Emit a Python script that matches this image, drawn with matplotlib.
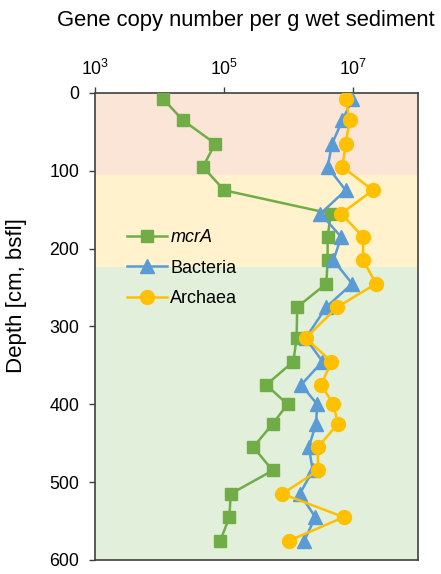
import numpy as np
import matplotlib.pyplot as plt

plt.rcParams['font.family'] = ['Liberation Sans', 'DejaVu Sans']
plt.rcParams['mathtext.fontset'] = 'custom'
plt.rcParams['mathtext.rm'] = 'Liberation Sans'
plt.rcParams['mathtext.it'] = 'Liberation Sans:italic'

# depth (cm) and log10 gene copies per g wet sediment
depth = [8, 35, 65, 95, 125, 155, 185, 215, 245, 275,
         315, 345, 375, 400, 425, 455, 485, 515, 545, 575]
mcrA_log = [4.06, 4.36, 4.86, 4.67, 5.00, 6.65, 6.60, 6.60, 6.58, 6.13,
            6.12, 6.07, 5.65, 5.98, 5.75, 5.45, 5.75, 5.10, 5.08, 4.94]
bact_log = [6.98, 6.83, 6.67, 6.60, 6.88, 6.49, 6.81, 6.69, 6.98, 6.58,
            6.26, 6.52, 6.19, 6.44, 6.42, 6.31, 6.37, 6.17, 6.41, 6.24]
arch_log = [6.88, 6.94, 6.88, 6.83, 7.30, 6.81, 7.15, 7.15, 7.35, 6.75,
            6.26, 6.66, 6.50, 6.69, 6.76, 6.45, 6.45, 5.90, 6.85, 6.01]

zones = [(0, 105, '#FBE5D6'), (105, 224, '#FFF2CC'), (224, 600, '#E2EFDA')]

fig = plt.figure(figsize=(4.41, 5.74), dpi=100)
ax = fig.add_axes([0.2154, 0.0244, 0.7326, 0.8136])

for top, bot, col in zones:
    ax.axhspan(top, bot, color=col, zorder=0, lw=0)

ax.plot(10 ** np.array(mcrA_log), depth, '-s', color='#70AD47', lw=1.8,
        ms=9, label='$\\mathit{mcrA}$', zorder=3)
ax.plot(10 ** np.array(bact_log), depth, '-^', color='#5B9BD5', lw=1.8,
        ms=9.5, label='Bacteria', zorder=4)
ax.plot(10 ** np.array(arch_log), depth, '-o', color='#FFC000', lw=1.8,
        ms=10, label='Archaea', zorder=5)

ax.set_xscale('log')
ax.set_xlim(1e3, 1e8)
ax.set_ylim(600, 0)
ax.xaxis.tick_top()
ax.set_xticks([1e3, 1e5, 1e7])
ax.set_xticklabels(['$10^3$', '$10^5$', '$10^7$'])
ax.xaxis.set_minor_locator(plt.NullLocator())
ax.set_yticks(range(0, 601, 100))
ax.tick_params(axis='both', labelsize=12.8, direction='out', length=4.3,
               color='#404040', width=1)
ax.tick_params(axis='y', pad=7)
ax.tick_params(axis='x', pad=6)
for s in ax.spines.values():
    s.set_color('#404040')
    s.set_linewidth(1.2)

ax.set_ylabel('Depth [cm, bsfl]', fontsize=16)
ax.yaxis.set_label_coords(-0.21, 0.567)
fig.text(0.557, 0.965, 'Gene copy number per g wet sediment', fontsize=15.8,
         ha='center', va='center')

leg = ax.legend(loc='upper left', bbox_to_anchor=(0.077, 0.724), frameon=False,
                fontsize=13, handlelength=2.2, handletextpad=0.2,
                labelspacing=0.75, borderaxespad=0.0)

fig.savefig('out.png', dpi=100)
